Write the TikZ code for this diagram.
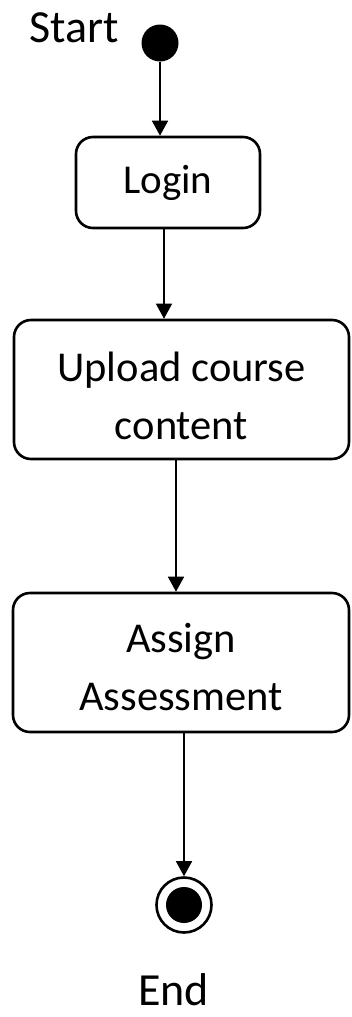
\documentclass[tikz,border=0pt]{standalone}
\usepackage{fontspec}
\setmainfont{Carlito}
\usetikzlibrary{arrows.meta}
\begin{document}
\begin{tikzpicture}[x=1pt,y=-1pt,
  lbl/.style={font=\fontsize{46}{58}\selectfont, inner sep=0pt},
  actbox/.style={draw, line width=2.6pt, rounded corners=17pt, inner sep=0pt},
  acttext/.style={align=center, font=\fontsize{42.5}{58}\selectfont, inner sep=0pt},
  flow/.style={line width=1.6pt, -{Triangle[width=16pt,length=15pt]}}]
  \useasboundingbox (0,0) rectangle (351,1017);

  % initial state
  \node (startlbl) [lbl, anchor=base] at (74,42) {Start};
  \node (start) [circle, fill=black, minimum size=37pt, inner sep=0pt] at (160,43) {};

  % activities (text sits a little below the box centre)
  \node (login) [actbox, minimum width=184pt, minimum height=91pt] at (168,182.5) {};
  \node (logintxt) [acttext, font=\fontsize{41}{58}\selectfont] at (login.center) {Login};
  \node (upload) [actbox, minimum width=335pt, minimum height=139pt] at (181.5,389.5) {};
  \node (uploadtxt) [acttext] at ([yshift=-6pt]upload.center) {Upload course\\content};
  \node (assign) [actbox, minimum width=336pt, minimum height=139pt] at (181,662.5) {};
  \node (assigntxt) [acttext] at ([yshift=-5pt]assign.center) {Assign\\Assessment};

  % final state
  \node (final) [circle, draw, line width=2.6pt, minimum size=55pt, inner sep=0pt] at (184,905) {};
  \node (finaldot) [circle, fill=black, minimum size=36pt, inner sep=0pt] at (final.center) {};
  \node (endlbl) [lbl, anchor=base] at (173.5,1005) {End};

  % transitions
  \draw[flow] (start.south) -- ([xshift=-8pt]login.north);
  \draw[flow] ([xshift=-4pt]login.south) -- ([xshift=-17.5pt]upload.north);
  \draw[flow] ([xshift=-5.5pt]upload.south) -- ([xshift=-5pt]assign.north);
  \draw[flow] ([xshift=3pt]assign.south) -- (final.north);
\end{tikzpicture}
\end{document}
